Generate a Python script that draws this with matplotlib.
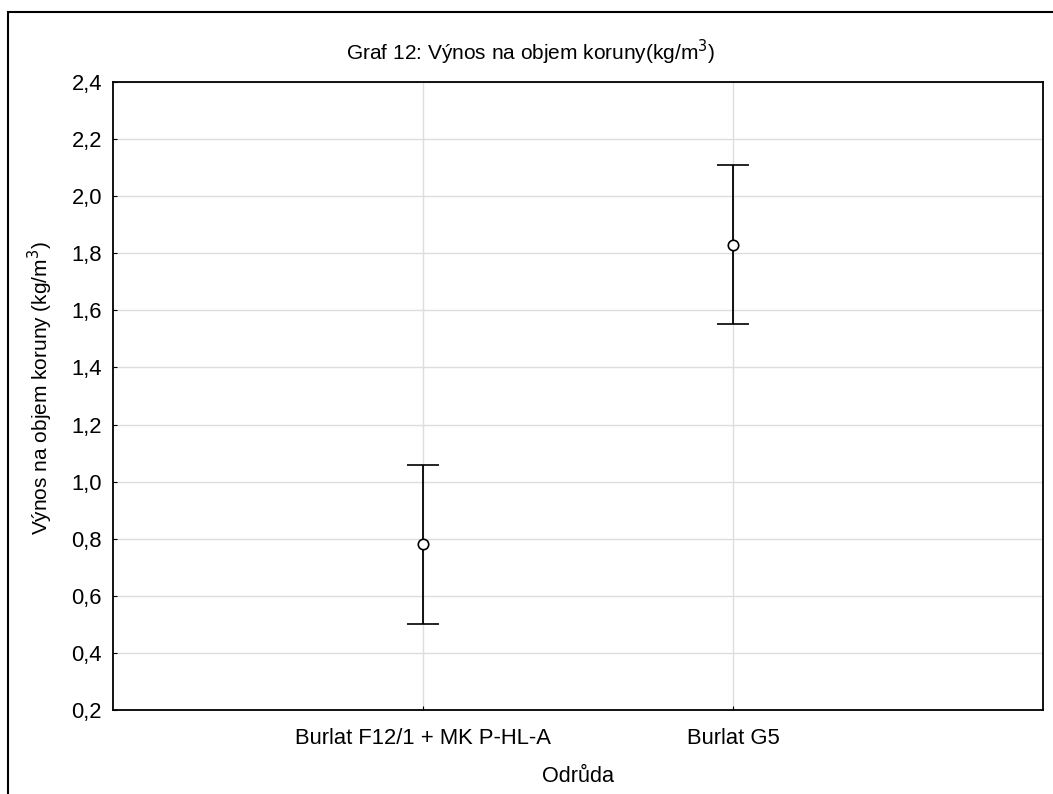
import matplotlib
matplotlib.use('Agg')
import matplotlib.pyplot as plt
from matplotlib.patches import Rectangle
import numpy as np

plt.rcParams['font.family'] = ['Liberation Sans', 'DejaVu Sans']

# data
categories = ['Burlat F12/1 + MK P-HL-A', 'Burlat G5']
means = [0.78, 1.83]
upper = [1.057, 2.11]
lower = [0.50, 1.553]
yticks = [0.2, 0.4, 0.6, 0.8, 1.0, 1.2, 1.4, 1.6, 1.8, 2.0, 2.2, 2.4]

fig = plt.figure(figsize=(10.53, 7.94), dpi=100)
ax = fig.add_axes([113 / 1053, 1 - 710 / 794, 930 / 1053, 628 / 794])

x = np.arange(1, len(categories) + 1)
err = [np.array(means) - np.array(lower), np.array(upper) - np.array(means)]
ax.errorbar(x, means, yerr=err, fmt='o', mfc='white', mec='black', ms=7.5,
            mew=1.2, ecolor='black', elinewidth=1.3, capsize=11.5, capthick=1.3,
            zorder=3)

ax.set_xlim(0, 3)
ax.set_ylim(0.2, 2.4)
ax.set_xticks(x)
ax.set_xticklabels(categories)
ax.set_yticks(yticks)
ax.set_yticklabels([f'{v:.1f}'.replace('.', ',') for v in yticks])
ax.tick_params(direction='in', length=3, labelsize=15.8)
ax.tick_params(axis='x', pad=13)
ax.tick_params(axis='y', pad=8)
ax.grid(True, color='#dddddd', linewidth=1)
ax.set_axisbelow(True)
for s in ax.spines.values():
    s.set_linewidth(1.3)

ax.set_xlabel('Odrůda', fontsize=15.6, labelpad=12)
ax.set_ylabel('Výnos na objem koruny (kg/m$^3$)', fontsize=15)
ax.yaxis.set_label_coords(-0.062, 0.513)
fig.text(531 / 1053, 1 - 52 / 794, 'Graf 12: Výnos na objem koruny(kg/m$^3$)',
         ha='center', va='center', fontsize=15)

# outer frame (left and top edges visible)
fig.patches.append(Rectangle((8 / 1053, -0.05), 1.2, 1 - 12 / 794 + 0.05,
                             transform=fig.transFigure, fill=False,
                             edgecolor='black', linewidth=1.5))

fig.savefig('out.png', dpi=100)
